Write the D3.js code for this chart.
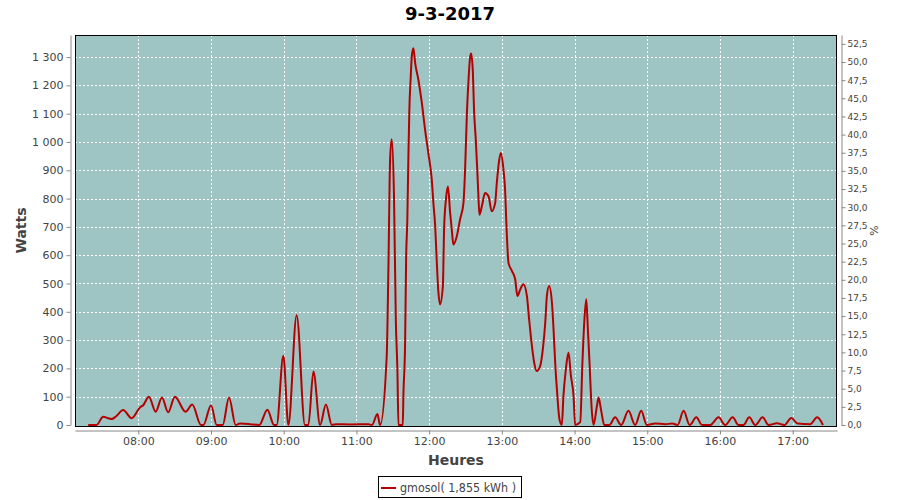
<!DOCTYPE html>
<html>
<head>
<meta charset="utf-8">
<script src="https://cdn.jsdelivr.net/npm/d3@7/dist/d3.min.js"></script>
<style>
  body { margin: 0; background: #fff; }
  svg { display: block; font-family: "DejaVu Sans", sans-serif; }
</style>
</head>
<body>
<svg id="chart" width="900" height="500"></svg>
<script>
// ---- Data ----
const chartTitle = "9-3-2017";
const chartDate = "2017-03-09";
const seriesName = "gmosol( 1,855 kWh )";
const xLabel = "Heures";
const yLeftLabel = "Watts";
const yRightLabel = "%";

const times = [
  "07:18:40","07:25:30","07:31:00","07:35:10","07:38:00","07:41:30","07:47:30","07:54:30",
  "08:01:20","08:04:00","08:08:45","08:14:20","08:19:30","08:24:40","08:30:10","08:39:00",
  "08:44:30","08:51:40","08:53:45","09:00:00","09:04:40","09:09:40","09:14:50","09:20:20",
  "09:23:50","09:32:10","09:39:50","09:46:30","09:52:00","09:54:10","09:59:40","10:03:50",
  "10:10:40","10:17:30","10:20:20","10:24:30","10:30:00","10:34:50","10:39:40","10:43:45",
  "10:54:40","11:09:50","11:12:50","11:17:20","11:19:30","11:25:00","11:26:20","11:27:50",
  "11:29:10","11:31:00","11:32:30","11:33:50","11:34:40","11:38:15","11:38:45","11:40:10",
  "11:41:00","11:42:00","11:42:50","11:43:40","11:44:50","11:45:40","11:47:00","11:48:30",
  "11:51:10","11:54:00","11:56:40","11:59:20","12:02:10","12:03:30","12:05:00","12:06:20",
  "12:07:40","12:09:00","12:11:20","12:12:20","12:13:50","12:15:30","12:17:20","12:18:40",
  "12:20:00","12:22:50","12:25:30","12:28:20","12:29:40","12:31:10","12:32:30","12:33:50",
  "12:34:40","12:36:00","12:37:10","12:38:30","12:39:50","12:40:40","12:41:30","12:43:30",
  "12:46:10","12:49:00","12:51:40","12:54:30","12:55:50","12:57:50","12:59:10","13:01:20",
  "13:02:40","13:03:30","13:04:10","13:05:30","13:08:20","13:11:00","13:12:50","13:15:10",
  "13:17:50","13:20:40","13:22:30","13:24:50","13:26:40","13:28:50","13:31:40","13:33:50",
  "13:35:50","13:37:10","13:39:00","13:41:20","13:42:40","13:44:00","13:45:50","13:47:30",
  "13:49:30","13:50:50","13:52:50","13:55:00","13:57:00","13:59:10","14:00:30","14:04:40",
  "14:06:30","14:08:00","14:09:40","14:11:00","14:12:20","14:14:20","14:15:40","14:18:30",
  "14:19:50","14:22:00","14:24:30","14:28:40","14:33:30","14:38:30","14:44:30","14:50:00",
  "14:55:00","14:59:40","15:06:30","15:14:50","15:20:40","15:25:00","15:30:00","15:35:00",
  "15:40:30","15:45:10","15:52:00","15:58:50","16:04:20","16:10:30","16:15:20","16:19:20",
  "16:24:10","16:29:10","16:35:10","16:40:10","16:47:05","16:53:10","16:58:50","17:04:05",
  "17:14:30","17:20:10","17:25:00"
];
const watts = [
  0,0,29,24,21,30,53,24,
  62,70,100,47,97,45,100,47,
  72,0,0,70,0,0,97,0,
  5,3,0,54,0,0,245,0,
  388,0,0,189,0,72,0,3,
  2,3,0,39,0,244,538,944,
  1010,808,373,188,0,0,103,291,
  585,726,937,1113,1231,1301,1331,1278,
  1219,1137,1043,961,867,785,702,573,
  468,426,491,691,796,843,749,691,
  638,667,726,785,902,1102,1219,1301,
  1313,1254,1102,1008,890,808,743,773,
  820,808,755,785,855,937,961,902,
  832,738,667,573,544,515,456,479,
  497,456,374,279,221,191,209,268,
  362,456,491,432,338,221,103,21,
  0,103,197,256,174,103,0,10,
  221,362,444,338,221,45,0,68,
  97,50,0,0,27,0,50,0,
  50,0,5,3,5,0,50,0,
  27,0,0,27,0,27,0,0,
  27,0,27,0,6,0,25,5,
  3,27,0
];

const xDomain = ["07:07:45", "17:36:35"];
const leftMax = 1378;
const rightMax = 53.72;
const leftTicks = [0,100,200,300,400,500,600,700,800,900,1000,1100,1200,1300];
const rightTicks = [0,2.5,5,7.5,10,12.5,15,17.5,20,22.5,25,27.5,30,32.5,35,37.5,40,42.5,45,47.5,50,52.5];

// ---- Layout ----
const plot = { left: 75, right: 837, top: 35, bottom: 426 };
const axisGray = "#888888";
const textGray = "#444444";

const parse = d3.timeParse("%Y-%m-%d %H:%M:%S");
const toDate = t => parse(chartDate + " " + t);
const data = times.map((t, i) => ({ t: toDate(t), v: watts[i] }));

const x = d3.scaleTime().domain(xDomain.map(toDate)).range([plot.left, plot.right]);
const yL = d3.scaleLinear().domain([0, leftMax]).range([plot.bottom - 1, plot.top]);
const yR = d3.scaleLinear().domain([0, rightMax]).range([plot.bottom - 1, plot.top]);

const fr = d3.formatLocale({ decimal: ",", thousands: " ", grouping: [3], currency: ["", ""] });
const fmtL = fr.format(",d");
const fmtR = fr.format(".1f");

const svg = d3.select("#chart");

// Title
svg.append("text").attr("x", 450).attr("y", 20).attr("text-anchor", "middle")
  .style("font-size", "18px").style("font-weight", "bold").attr("fill", "#000")
  .text(chartTitle);

// Plot background
svg.append("rect").attr("x", plot.left).attr("y", plot.top)
  .attr("width", plot.right - plot.left).attr("height", plot.bottom - plot.top)
  .attr("fill", "#9fc4c4");

// Gridlines
const grid = svg.append("g");
grid.selectAll("line.h").data(leftTicks.filter(d => d > 0)).join("line")
  .attr("x1", plot.left).attr("x2", plot.right)
  .attr("y1", d => Math.round(yL(d)) + 0.5).attr("y2", d => Math.round(yL(d)) + 0.5)
  .attr("stroke", "#fff").attr("stroke-width", 1).attr("stroke-dasharray", "2,2");
const hourTicks = x.ticks(d3.timeHour.every(1));
grid.selectAll("line.v").data(hourTicks).join("line")
  .attr("x1", d => Math.round(x(d)) + 0.5).attr("x2", d => Math.round(x(d)) + 0.5)
  .attr("y1", plot.top).attr("y2", plot.bottom)
  .attr("stroke", "#fff").attr("stroke-width", 1).attr("stroke-dasharray", "2,2");

// Plot border (under the line)
svg.append("rect").attr("x", plot.left + 0.5).attr("y", plot.top + 0.5)
  .attr("width", plot.right - plot.left - 1).attr("height", plot.bottom - plot.top)
  .attr("fill", "none").attr("stroke", "#000").attr("stroke-width", 1);

// Clip
svg.append("clipPath").attr("id", "clip").append("rect")
  .attr("x", plot.left).attr("y", plot.top)
  .attr("width", plot.right - plot.left).attr("height", plot.bottom - plot.top + 1);

// Line
const line = d3.line().x(d => x(d.t)).y(d => yL(d.v)).curve(d3.curveMonotoneX);
svg.append("path").datum(data).attr("clip-path", "url(#clip)")
  .attr("d", line).attr("fill", "none").attr("stroke", "#b40000")
  .attr("stroke-width", 2).attr("stroke-linejoin", "round");

// Axes
function styleAxis(g, fontSize) {
  g.select(".domain").attr("stroke", axisGray);
  g.selectAll(".tick line").attr("stroke", axisGray);
  g.selectAll(".tick text").attr("fill", textGray).style("font-size", fontSize)
    .style("font-family", "DejaVu Sans, sans-serif");
}

const xAxis = d3.axisBottom(x).tickValues(hourTicks).tickFormat(d3.timeFormat("%H:%M"))
  .tickSizeInner(4).tickSizeOuter(0).tickPadding(3);
svg.append("g").attr("transform", `translate(0,${plot.bottom + 4.5})`).call(xAxis)
  .call(g => styleAxis(g, "11px"));

const yAxisL = d3.axisLeft(yL).tickValues(leftTicks).tickFormat(fmtL)
  .tickSizeInner(4).tickSizeOuter(0).tickPadding(3);
svg.append("g").attr("transform", `translate(${plot.left - 4.5},0)`).call(yAxisL)
  .call(g => styleAxis(g, "11px"));

const yAxisR = d3.axisRight(yR).tickValues(rightTicks).tickFormat(fmtR)
  .tickSizeInner(4).tickSizeOuter(0).tickPadding(2);
svg.append("g").attr("transform", `translate(${plot.right + 4.5},0)`).call(yAxisR)
  .call(g => styleAxis(g, "9px"));

// Axis labels
svg.append("text").attr("x", (plot.left + plot.right) / 2).attr("y", 465)
  .attr("text-anchor", "middle").style("font-size", "14px").style("font-weight", "bold")
  .attr("fill", textGray).text(xLabel);
svg.append("text").attr("transform", `translate(26,${(plot.top + plot.bottom) / 2}) rotate(-90)`)
  .attr("text-anchor", "middle").style("font-size", "14px").style("font-weight", "bold")
  .attr("fill", textGray).text(yLeftLabel);
svg.append("text").attr("transform", `translate(878,${(plot.top + plot.bottom) / 2}) rotate(-90)`)
  .attr("text-anchor", "middle").style("font-size", "11px")
  .attr("fill", textGray).text(yRightLabel);

// Legend
const lg = svg.append("g");
lg.append("rect").attr("x", 378.5).attr("y", 476.5).attr("width", 143).attr("height", 21)
  .attr("fill", "#fff").attr("stroke", "#000");
lg.append("line").attr("x1", 381).attr("x2", 396).attr("y1", 488).attr("y2", 488)
  .attr("stroke", "#b40000").attr("stroke-width", 2);
lg.append("text").attr("x", 400).attr("y", 492).style("font-size", "12px")
  .attr("fill", textGray).attr("textLength", 116).attr("lengthAdjust", "spacingAndGlyphs")
  .text(seriesName);
</script>
</body>
</html>
